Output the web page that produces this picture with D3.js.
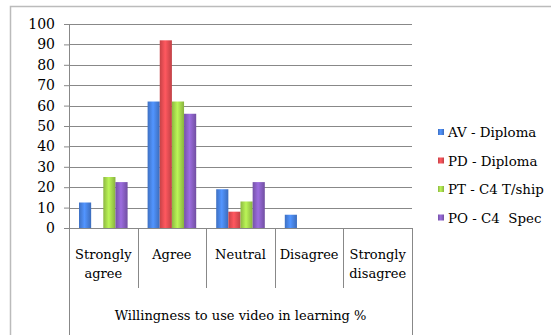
<!DOCTYPE html>
<html>
<head>
<meta charset="utf-8">
<script src="https://cdn.jsdelivr.net/npm/d3@7"></script>
<style>
  body { margin: 0; background: #fff; }
  text { font-family: "DejaVu Serif", serif; fill: #000; }
</style>
</head>
<body>
<svg id="chart" width="551" height="335"></svg>
<script>
// data
var categories = ["Strongly agree", "Agree", "Neutral", "Disagree", "Strongly disagree"];
var seriesNames = ["AV - Diploma", "PD - Diploma", "PT - C4 T/ship", "PO - C4  Spec"];
var avValues = [12.5, 62, 19, 6.5, 0];
var pdValues = [0, 92, 8, 0, 0];
var ptValues = [25, 62, 13, 0, 0];
var poValues = [22.5, 56, 22.5, 0, 0];
var yTicks = [0, 10, 20, 30, 40, 50, 60, 70, 80, 90, 100];
var axisTitle = "Willingness to use video in learning %";
var colors = ["#4a86e8", "#ee4f55", "#a8dc4e", "#8c62c8"];

var allValues = [avValues, pdValues, ptValues, poValues];

var svg = d3.select("#chart");
var plotL = 69, plotR = 412, plotT = 24, plotB = 228;

var x0 = d3.scaleBand().domain(categories).range([plotL, plotR]);
var x1 = d3.scaleBand().domain(seriesNames).range([10, x0.bandwidth() - 10]);
var y = d3.scaleLinear().domain([0, 100]).range([plotB, plotT]);

// gradients for the bar shading
var defs = svg.append("defs");
colors.forEach(function(c, i) {
    var g = defs.append("linearGradient").attr("id", "g" + i)
        .attr("x1", "0%").attr("x2", "100%").attr("y1", "0%").attr("y2", "0%");
    g.append("stop").attr("offset", "0%").attr("stop-color", d3.color(c).darker(0.5));
    g.append("stop").attr("offset", "45%").attr("stop-color", d3.color(c).brighter(0.3));
    g.append("stop").attr("offset", "100%").attr("stop-color", d3.color(c).darker(0.6));
});

// outer frame
svg.append("path")
    .attr("d", "M10.5,335 V6.5 H551")
    .attr("fill", "none").attr("stroke", "#bbb").attr("stroke-width", 1.5);

// gridlines
svg.append("g").selectAll("line").data(yTicks).enter().append("line")
    .attr("x1", plotL).attr("x2", plotR)
    .attr("y1", function(d) { return Math.round(y(d)) + 0.5; })
    .attr("y2", function(d) { return Math.round(y(d)) + 0.5; })
    .attr("stroke", "#888").attr("stroke-width", 1);

// y axis
var yAxis = svg.append("g").attr("transform", "translate(" + plotL + ",0)")
    .call(d3.axisLeft(y).tickValues(yTicks).tickSize(5).tickPadding(9));
yAxis.select(".domain").remove();
yAxis.selectAll("line").attr("stroke", "#888");
yAxis.selectAll("text").style("font-family", "DejaVu Serif").style("font-size", "14px").attr("fill", "#000");

// left axis line down to bottom
svg.append("line").attr("x1", plotL + 0.5).attr("x2", plotL + 0.5).attr("y1", plotT).attr("y2", 335)
    .attr("stroke", "#888");
svg.append("line").attr("x1", plotR + 0.5).attr("x2", plotR + 0.5).attr("y1", plotB).attr("y2", 335)
    .attr("stroke", "#888");

// category separators
svg.append("g").selectAll("line").data(categories.slice(1)).enter().append("line")
    .attr("x1", function(d) { return Math.round(x0(d)) + 0.5; })
    .attr("x2", function(d) { return Math.round(x0(d)) + 0.5; })
    .attr("y1", plotB).attr("y2", 288)
    .attr("stroke", "#888");

// bars
var groups = svg.append("g").selectAll("g").data(categories).enter().append("g")
    .attr("transform", function(d) { return "translate(" + x0(d) + ",0)"; });
groups.selectAll("rect")
    .data(function(d, ci) { return seriesNames.map(function(s, si) { return { s: s, si: si, v: allValues[si][ci] }; }); })
    .enter().append("rect")
    .attr("x", function(d) { return x1(d.s); })
    .attr("width", x1.bandwidth())
    .attr("y", function(d) { return y(d.v); })
    .attr("height", function(d) { return y(0) - y(d.v); })
    .attr("fill", function(d) { return "url(#g" + d.si + ")"; });

// category labels
var labelLines = {
    "Strongly agree": ["Strongly", "agree"],
    "Strongly disagree": ["Strongly", "disagree"]
};
svg.append("g").selectAll("text").data(categories).enter().append("text")
    .attr("x", function(d) { return x0(d) + x0.bandwidth() / 2; })
    .attr("y", 259)
    .attr("text-anchor", "middle")
    .style("font-size", "13px")
    .each(function(d) {
        var lines = labelLines[d] || [d];
        var t = d3.select(this);
        lines.forEach(function(l, i) {
            t.append("tspan").attr("x", x0(d) + x0.bandwidth() / 2).attr("dy", i ? 19 : 0).text(l);
        });
    });

// axis title
svg.append("text").attr("x", (plotL + plotR) / 2).attr("y", 320)
    .attr("text-anchor", "middle").style("font-size", "13px").text(axisTitle);

// legend
var legend = svg.append("g").selectAll("g").data(seriesNames).enter().append("g")
    .attr("transform", function(d, i) { return "translate(438," + (133 + i * 28.5) + ")"; });
legend.append("rect").attr("x", 0).attr("y", -4).attr("width", 6).attr("height", 6)
    .attr("fill", function(d, i) { return "url(#g" + i + ")"; });
legend.append("text").attr("x", 10).attr("y", 4).style("font-size", "13.4px")
    .style("white-space", "pre")
    .text(function(d) { return d; });
</script>
</body>
</html>
